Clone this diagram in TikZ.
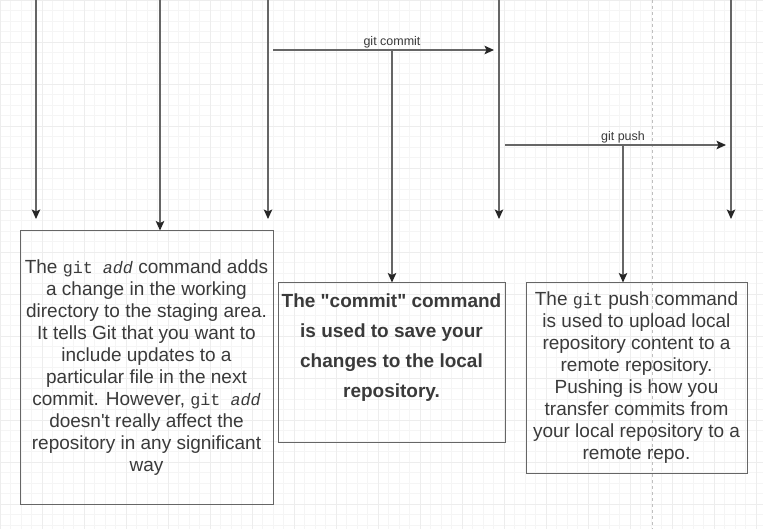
\documentclass[tikz,border=0pt]{standalone}
\usepackage{fontspec}
\setmainfont{Liberation Sans}
\newfontfamily\codefont{Liberation Mono}[Scale=0.88]
\usetikzlibrary{arrows.meta,positioning}
\definecolor{txtgray}{HTML}{3A3A3A}
\definecolor{edgegray}{HTML}{666666}
\newcommand{\gitcode}[1]{{\codefont #1}}

\begin{document}
\begin{tikzpicture}[x=1pt,y=-1pt,
 link/.style={edgegray,line width=1.1pt,-{Stealth[length=9.5pt,width=8.5pt,inset=2pt,black!85]}},
 notebox/.style={draw=edgegray,line width=1pt,rectangle,inner sep=0pt},
 notetext/.style={text=txtgray,align=center,font=\fontsize{19}{22}\selectfont},
 cmdlabel/.style={text=txtgray,font=\fontsize{12.5}{14}\selectfont,inner sep=1pt}]
 \useasboundingbox (0,0) rectangle (763,529);
 \fill[white] (0,0) rectangle (763,529);
 \draw[black!4,step=10.5pt] (0,529) grid (763,0);
 \draw[black!7,step=42pt] (0,529) grid (763,0);
 \draw[black!25,dash pattern=on 3pt off 3pt] (652,0) -- (652,529);

 % lanes coming in from the top
 \coordinate (lane1) at (36,0);
 \coordinate (lane2) at (160,0);
 \coordinate (lane3) at (268,0);
 \coordinate (lane4) at (499,0);
 \coordinate (lane5) at (731,0);

 \coordinate (commitstart) at (273,50);
 \coordinate (commitend) at (494,50);
 \coordinate (commitmid) at (392,50);
 \node[cmdlabel,above=0.5pt of commitmid] (commitlabel) {git commit};

 \coordinate (pushstart) at (505,145);
 \coordinate (pushend) at (726,145);
 \coordinate (pushmid) at (623,145);
 \node[cmdlabel,above=0.5pt of pushmid] (pushlabel) {git push};

 \node[notebox,notetext,minimum width=253pt,minimum height=273pt] (addbox) at (146.5,367.5)
 {The \gitcode{git \textit{add}} command adds\\ a change in the working\\
 directory to the staging area.\\ It tells Git that you want to\\ include updates to a\\
 particular file in the next\\ commit. However, \gitcode{git \textit{add}}\\
 doesn\textquotesingle t really affect the\\ repository in any significant\\ way};

 \node[notebox,minimum width=227pt,minimum height=159pt] (commitbox) at (391.5,362.5) {};
 \node[notetext,inner sep=0pt,font={\fontsize{19}{30}\selectfont\bfseries},below=11pt of commitbox.north]
 (committext) {The \textquotedbl commit\textquotedbl\ command\\ is used to save your\\ changes to the local\\ repository.};

 \node[notebox,notetext,minimum width=221pt,minimum height=190pt] (pushbox) at (636.5,378)
 {The \gitcode{git} push command\\ is used to upload local\\ repository content to a\\
 remote repository.\\ Pushing is how you\\ transfer commits from\\
 your local repository to a\\ remote repo.};

 % draw arrows
 \draw[link] (lane1) -- ++(0,219);
 \draw[link] (lane2) -- (lane2 |- addbox.north);
 \draw[link] (lane3) -- ++(0,219);
 \draw[link] (lane4) -- ++(0,219);
 \draw[link] (lane5) -- ++(0,219);
 \draw[link] (commitstart) -- (commitend);
 \draw[link] (commitmid) -- (commitmid |- commitbox.north);
 \draw[link] (pushstart) -- (pushend);
 \draw[link] (pushmid) -- (pushmid |- pushbox.north);
\end{tikzpicture}
\end{document}
